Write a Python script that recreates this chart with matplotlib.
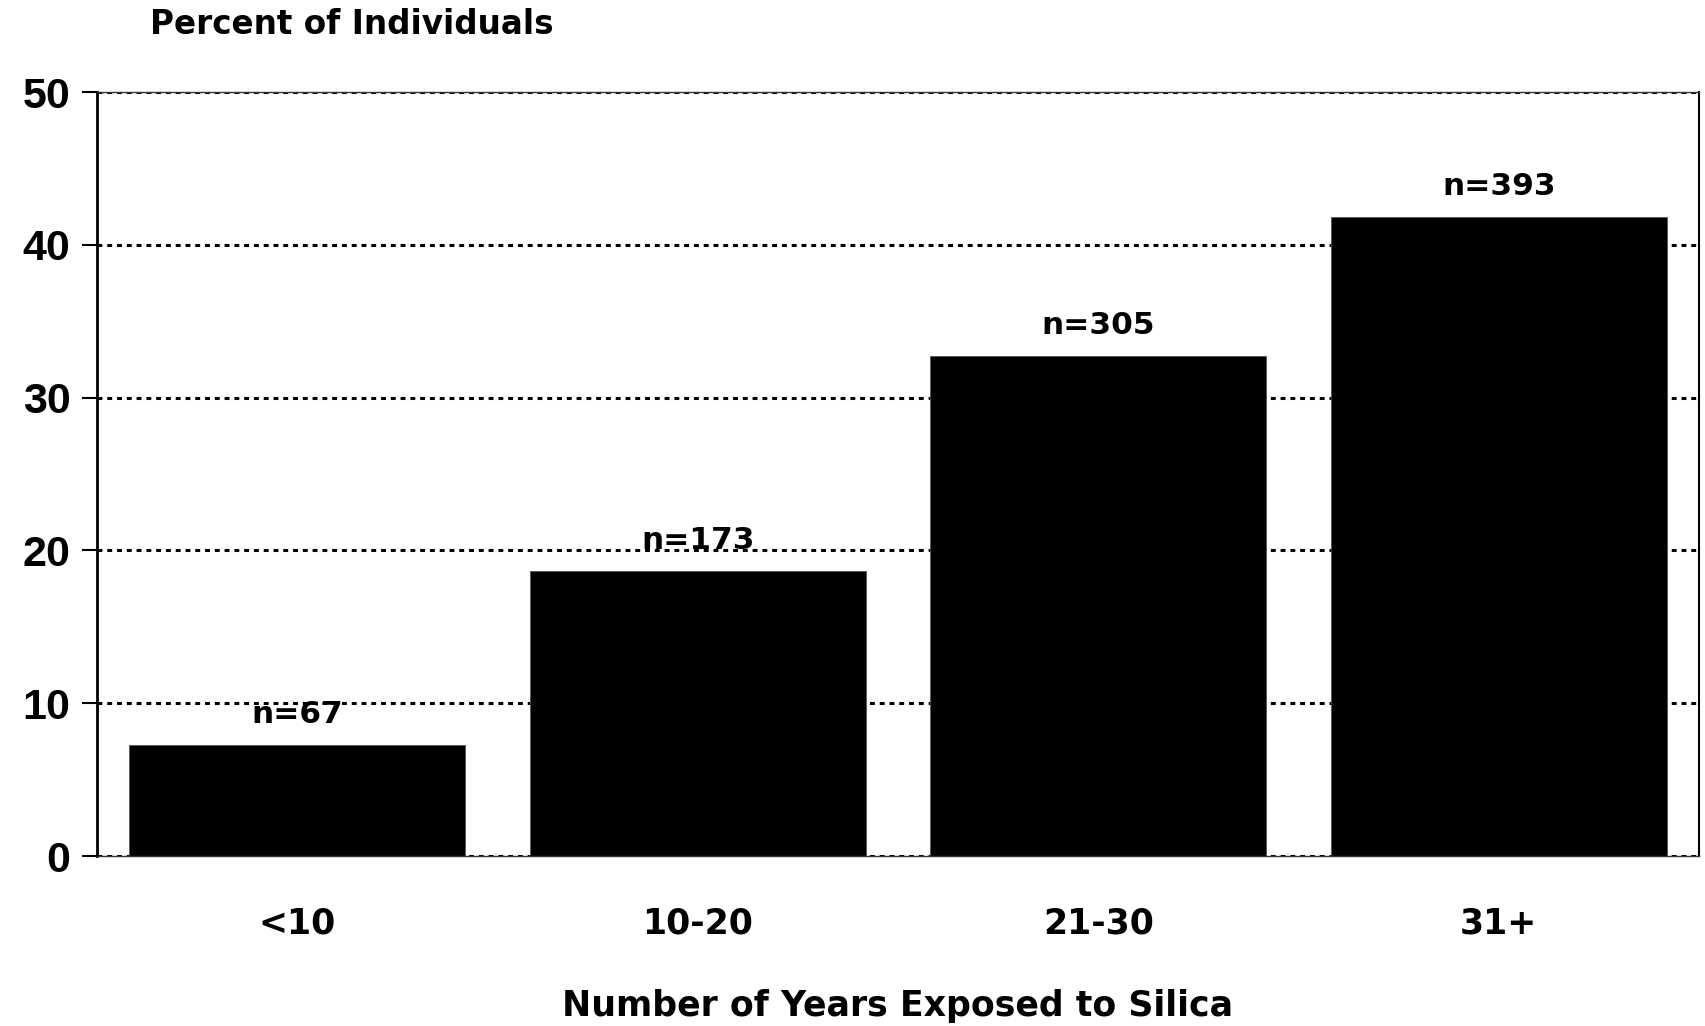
import numpy as np
import matplotlib
matplotlib.use('Agg')
import matplotlib.pyplot as plt

# data
groups = ['<10', '10-20', '21-30', '31+']
percent = [7.25, 18.65, 32.72, 41.8]
counts = ['n=67', 'n=173', 'n=305', 'n=393']
yticks = [0, 10, 20, 30, 40, 50]

W, H = 1705, 1026
fig = plt.figure(figsize=(W/100, H/100), dpi=100)
ax = fig.add_axes([97/W, 1-856/H, (1699-97)/W, (856-92)/H])

x = np.arange(len(groups))
ax.bar(x, percent, width=0.84, color='black', edgecolor='#555555', linewidth=0.6, zorder=2)

for xi, p, c in zip(x, percent, counts):
	ax.annotate(c, xy=(xi, p), xytext=(0, 22), textcoords='offset points',
				ha='center', va='center', fontsize=22.5, fontweight='bold', family='DejaVu Sans')

ax.set_xlim(-0.5, 3.5)
ax.set_ylim(0, 50)
ax.set_yticks(yticks)
ax.set_yticklabels([str(t) for t in yticks], fontsize=31, fontweight='bold', family='Liberation Sans')
ax.set_xticks(x)
ax.set_xticklabels(groups, fontsize=25, fontweight='bold')
ax.tick_params(axis='x', length=0, pad=36)
ax.tick_params(axis='y', length=11, width=1.5, pad=8, direction='out')

ax.grid(axis='y', color='black', linestyle=(0, (1.6, 1.6)), linewidth=2.2)
ax.set_axisbelow(True)
for s in ['top', 'bottom']:
	ax.spines[s].set_linewidth(1.0)
	ax.spines[s].set_color('#333333')
ax.spines['left'].set_linewidth(2)
ax.spines['right'].set_linewidth(1.5)

fig.text(150/W, 1-25/H, 'Percent of Individuals', ha='left', va='center', fontsize=23.5, fontweight='bold')
fig.text((97+1699)/2/W, 1-1006/H, 'Number of Years Exposed to Silica', ha='center', va='center',
		 fontsize=25, fontweight='bold')

plt.savefig('out.png', dpi=100)
